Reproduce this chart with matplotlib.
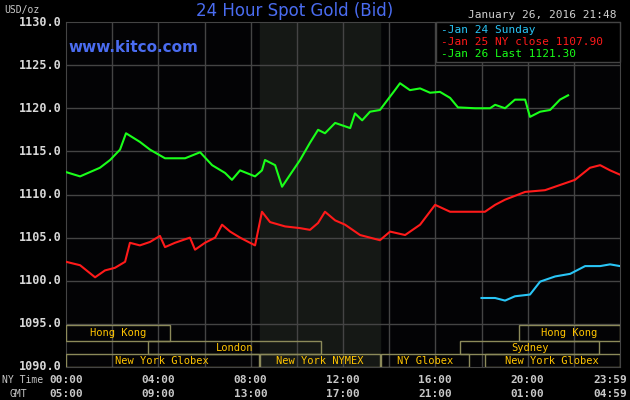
import matplotlib
matplotlib.use("Agg")
import matplotlib.pyplot as plt
from matplotlib.patches import Rectangle

green_h = [0,0.61,1.47,1.91,2.34,2.6,3.2,3.64,4.29,5.16,5.81,6.33,6.89,7.19,7.54,8.19,8.49,8.62,9.06,9.36,9.71,10.14,10.57,10.92,11.22,11.66,12.31,12.52,12.83,13.17,13.6,14.25,14.47,14.9,15.34,15.77,16.2,16.64,16.98,17.72,18.37,18.59,19.02,19.45,19.89,20.1,20.54,20.97,21.4,21.75]
green_p = [1112.6,1112.1,1113.1,1114.0,1115.2,1117.1,1116.1,1115.2,1114.2,1114.2,1114.9,1113.4,1112.5,1111.7,1112.8,1112.1,1112.8,1114.0,1113.4,1110.9,1112.3,1114.0,1116.0,1117.5,1117.1,1118.3,1117.7,1119.4,1118.6,1119.6,1119.8,1122.1,1122.9,1122.1,1122.3,1121.8,1121.9,1121.2,1120.1,1120.0,1120.0,1120.4,1120.0,1121.0,1121.0,1119.0,1119.6,1119.8,1121.0,1121.5]
red_h = [0,0.61,1.26,1.69,2.12,2.56,2.77,3.2,3.64,4.07,4.29,4.72,5.37,5.59,6.02,6.46,6.76,7.11,7.54,8.19,8.49,8.84,9.49,10.14,10.57,10.92,11.22,11.66,12.09,12.74,13.6,14.04,14.69,15.34,15.99,16.64,17.5,18.15,18.59,19.02,19.89,20.75,21.4,22.05,22.7,23.14,23.57,24]
red_p = [1102.2,1101.8,1100.4,1101.2,1101.5,1102.2,1104.4,1104.1,1104.5,1105.2,1103.9,1104.4,1105.0,1103.6,1104.4,1105.0,1106.5,1105.7,1105.0,1104.1,1108.0,1106.8,1106.3,1106.1,1105.9,1106.7,1108.0,1107.0,1106.5,1105.3,1104.7,1105.7,1105.3,1106.5,1108.8,1108.0,1108.0,1108.0,1108.8,1109.4,1110.3,1110.5,1111.1,1111.7,1113.1,1113.4,1112.8,1112.3]
cyan_h = [18.0,18.59,19.02,19.45,20.1,20.54,21.19,21.84,22.49,23.14,23.57,24]
cyan_p = [1098.0,1098.0,1097.7,1098.2,1098.4,1099.9,1100.5,1100.8,1101.7,1101.7,1101.9,1101.7]

yticks = [1090,1095,1100,1105,1110,1115,1120,1125,1130]
xtick_pos = [0,4,8,12,16,20,24]
ny_labels = ["00:00","04:00","08:00","12:00","16:00","20:00","23:59"]
gmt_labels = ["05:00","09:00","13:00","17:00","21:00","01:00","04:59"]
# (label, start hour, end hour, row)
sessions = [("Hong Kong",0,4.52,0),("London",3.56,11.05,1),("New York Globex",0,8.34,2),
            ("New York NYMEX",8.39,13.59,2),("NY Globex",13.64,17.44,2),
            ("Hong Kong",19.63,24,0),("Sydney",17.09,23.07,1),("New York Globex",18.14,24,2)]
rows = [(1093.0,1094.9),(1091.5,1093.0),(1090.0,1091.5)]
legend = [("Jan 24 Sunday","#29c5f6"),("Jan 25 NY close 1107.90","#ff1a1a"),("Jan 26 Last 1121.30","#1aff1a")]

mono = "DejaVu Sans Mono"
fig = plt.figure(figsize=(6.3,4),dpi=100,facecolor="black")
ax = fig.add_axes([66/630, 1-367/400, 554/630, 345/400])
ax.set_facecolor("#030305")
ax.set_xlim(0,24); ax.set_ylim(1090,1130)
ax.axvspan(8.39,13.59,color="#151815",zorder=0)
for h in range(2,24,2):
    ax.axvline(h,color="#444444",lw=1,zorder=1)
for y in yticks[1:-1]:
    ax.axhline(y,color="#444444",lw=1,zorder=1)
for s in ax.spines.values():
    s.set_color("#444444")
ax.set_xticks([]); ax.set_yticks([])
for y in yticks:
    fig.text(62/630, ax.transData.transform((0,y))[1]/400, f"{y:.1f}", ha="right", va="center",
             color="#d8d8d8", family=mono, fontsize=8.5, fontweight="bold")
ax.plot(red_h,red_p,color="#ff1a1a",lw=1.5,zorder=3)
ax.plot(green_h,green_p,color="#1aff1a",lw=1.5,zorder=3)
ax.plot(cyan_h,cyan_p,color="#29c5f6",lw=1.5,zorder=3)
for lab,a,b,r in sessions:
    lo,hi = rows[r]
    ax.add_patch(Rectangle((a,lo),b-a,hi-lo,fill=False,ec="#8c8a5a",lw=1,zorder=4))
    ax.text((a+b)/2,(lo+hi)/2,lab,ha="center",va="center",color="#ffc400",family=mono,fontsize=7.5,zorder=5)
for p,n,g in zip(xtick_pos,ny_labels,gmt_labels):
    x = (66+554*p/24)/630
    ha = "center"
    if p == 24:
        x, ha = 627/630, "right"
    fig.text(x,1-380/400,n,ha=ha,va="center",color="#c8c8c8",family=mono,fontsize=8,fontweight="bold")
    fig.text(x,1-394/400,g,ha=ha,va="center",color="#c8c8c8",family=mono,fontsize=8,fontweight="bold")
fig.text(2/630,1-380/400,"NY Time",ha="left",va="center",color="#c8c8c8",family=mono,fontsize=7)
fig.text(10/630,1-394/400,"GMT",ha="left",va="center",color="#c8c8c8",family=mono,fontsize=7)
fig.text(4/630,1-10/400,"USD/oz",ha="left",va="center",color="#c8c8c8",family=mono,fontsize=7)
fig.text(295/630,1-11/400,"24 Hour Spot Gold (Bid)",ha="center",va="center",color="#4a6cf0",fontsize=12)
fig.text(68/630,1-48/400,"www.kitco.com",ha="left",va="center",color="#4a6cf0",fontsize=11,fontweight="bold")
fig.text(616/630,1-15/400,"January 26, 2016 21:48",ha="right",va="center",color="#d0d0d0",family=mono,fontsize=8)
fig.patches.append(Rectangle((436/630,1-62/400),184/630,40/400,transform=fig.transFigure,fc="black",ec="#444444",lw=1,zorder=6))
for i,(t,c) in enumerate(legend):
    fig.text(441/630,1-(30+12*i)/400,"-"+t,ha="left",va="center",color=c,family=mono,fontsize=8,zorder=7)
fig.savefig("out.png",dpi=100,facecolor="black")
